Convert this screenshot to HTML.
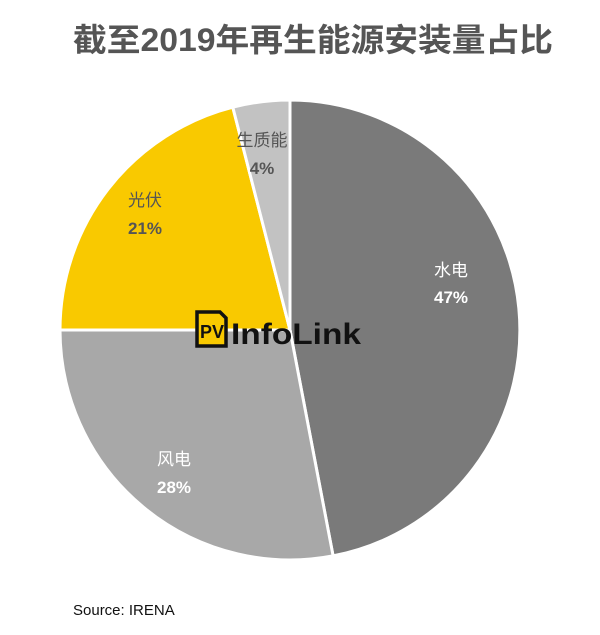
<!DOCTYPE html>
<html><head><meta charset="utf-8"><style>
html,body{margin:0;padding:0;background:#fff;}
svg{display:block;}
</style></head><body>
<svg width="600" height="635" viewBox="0 0 600 635" xmlns="http://www.w3.org/2000/svg" font-family="Liberation Sans, Noto Sans CJK SC, sans-serif">
<rect width="600" height="635" fill="#fff"/>
<text x="73" y="51" font-size="32" font-weight="bold" fill="#555" textLength="480" lengthAdjust="spacingAndGlyphs">截至2019年再生能源安装量占比</text>
<g stroke="#fff" stroke-width="3">
<path d="M290,330 L290,100 A230,230 0 0 1 333.1,555.9 Z" fill="#7a7a7a"/>
<path d="M290,330 L333.1,555.9 A230,230 0 0 1 60,330 Z" fill="#a8a8a8"/>
<path d="M290,330 L60,330 A230,230 0 0 1 232.8,107.2 Z" fill="#f9c900"/>
<path d="M290,330 L232.8,107.2 A230,230 0 0 1 290,100 Z" fill="#c2c2c2"/>
</g>
<g font-size="17" text-anchor="middle">
<text x="451" y="276" fill="#fff">水电</text>
<text x="451" y="303" fill="#fff" font-weight="bold">47%</text>
<text x="174" y="465" fill="#fff">风电</text>
<text x="174" y="493" fill="#fff" font-weight="bold">28%</text>
<text x="145" y="206" fill="#555">光伏</text>
<text x="145" y="234" fill="#555" font-weight="bold">21%</text>
<text x="262" y="146" fill="#555">生质能</text>
<text x="262" y="174" fill="#555" font-weight="bold">4%</text>
</g>
<g>
<path d="M197,312 L220,312 L226,318 L226,346 L197,346 Z" fill="#f9c900" stroke="#111" stroke-width="3.5"/>
<text x="200" y="338" font-size="18" font-weight="bold" fill="#111">PV</text>
<text x="231" y="344" font-size="30" font-weight="bold" fill="#111" textLength="130" lengthAdjust="spacingAndGlyphs">InfoLink</text>
</g>
<text x="73" y="615" font-size="15" fill="#111">Source: IRENA</text>
</svg>
</body></html>
